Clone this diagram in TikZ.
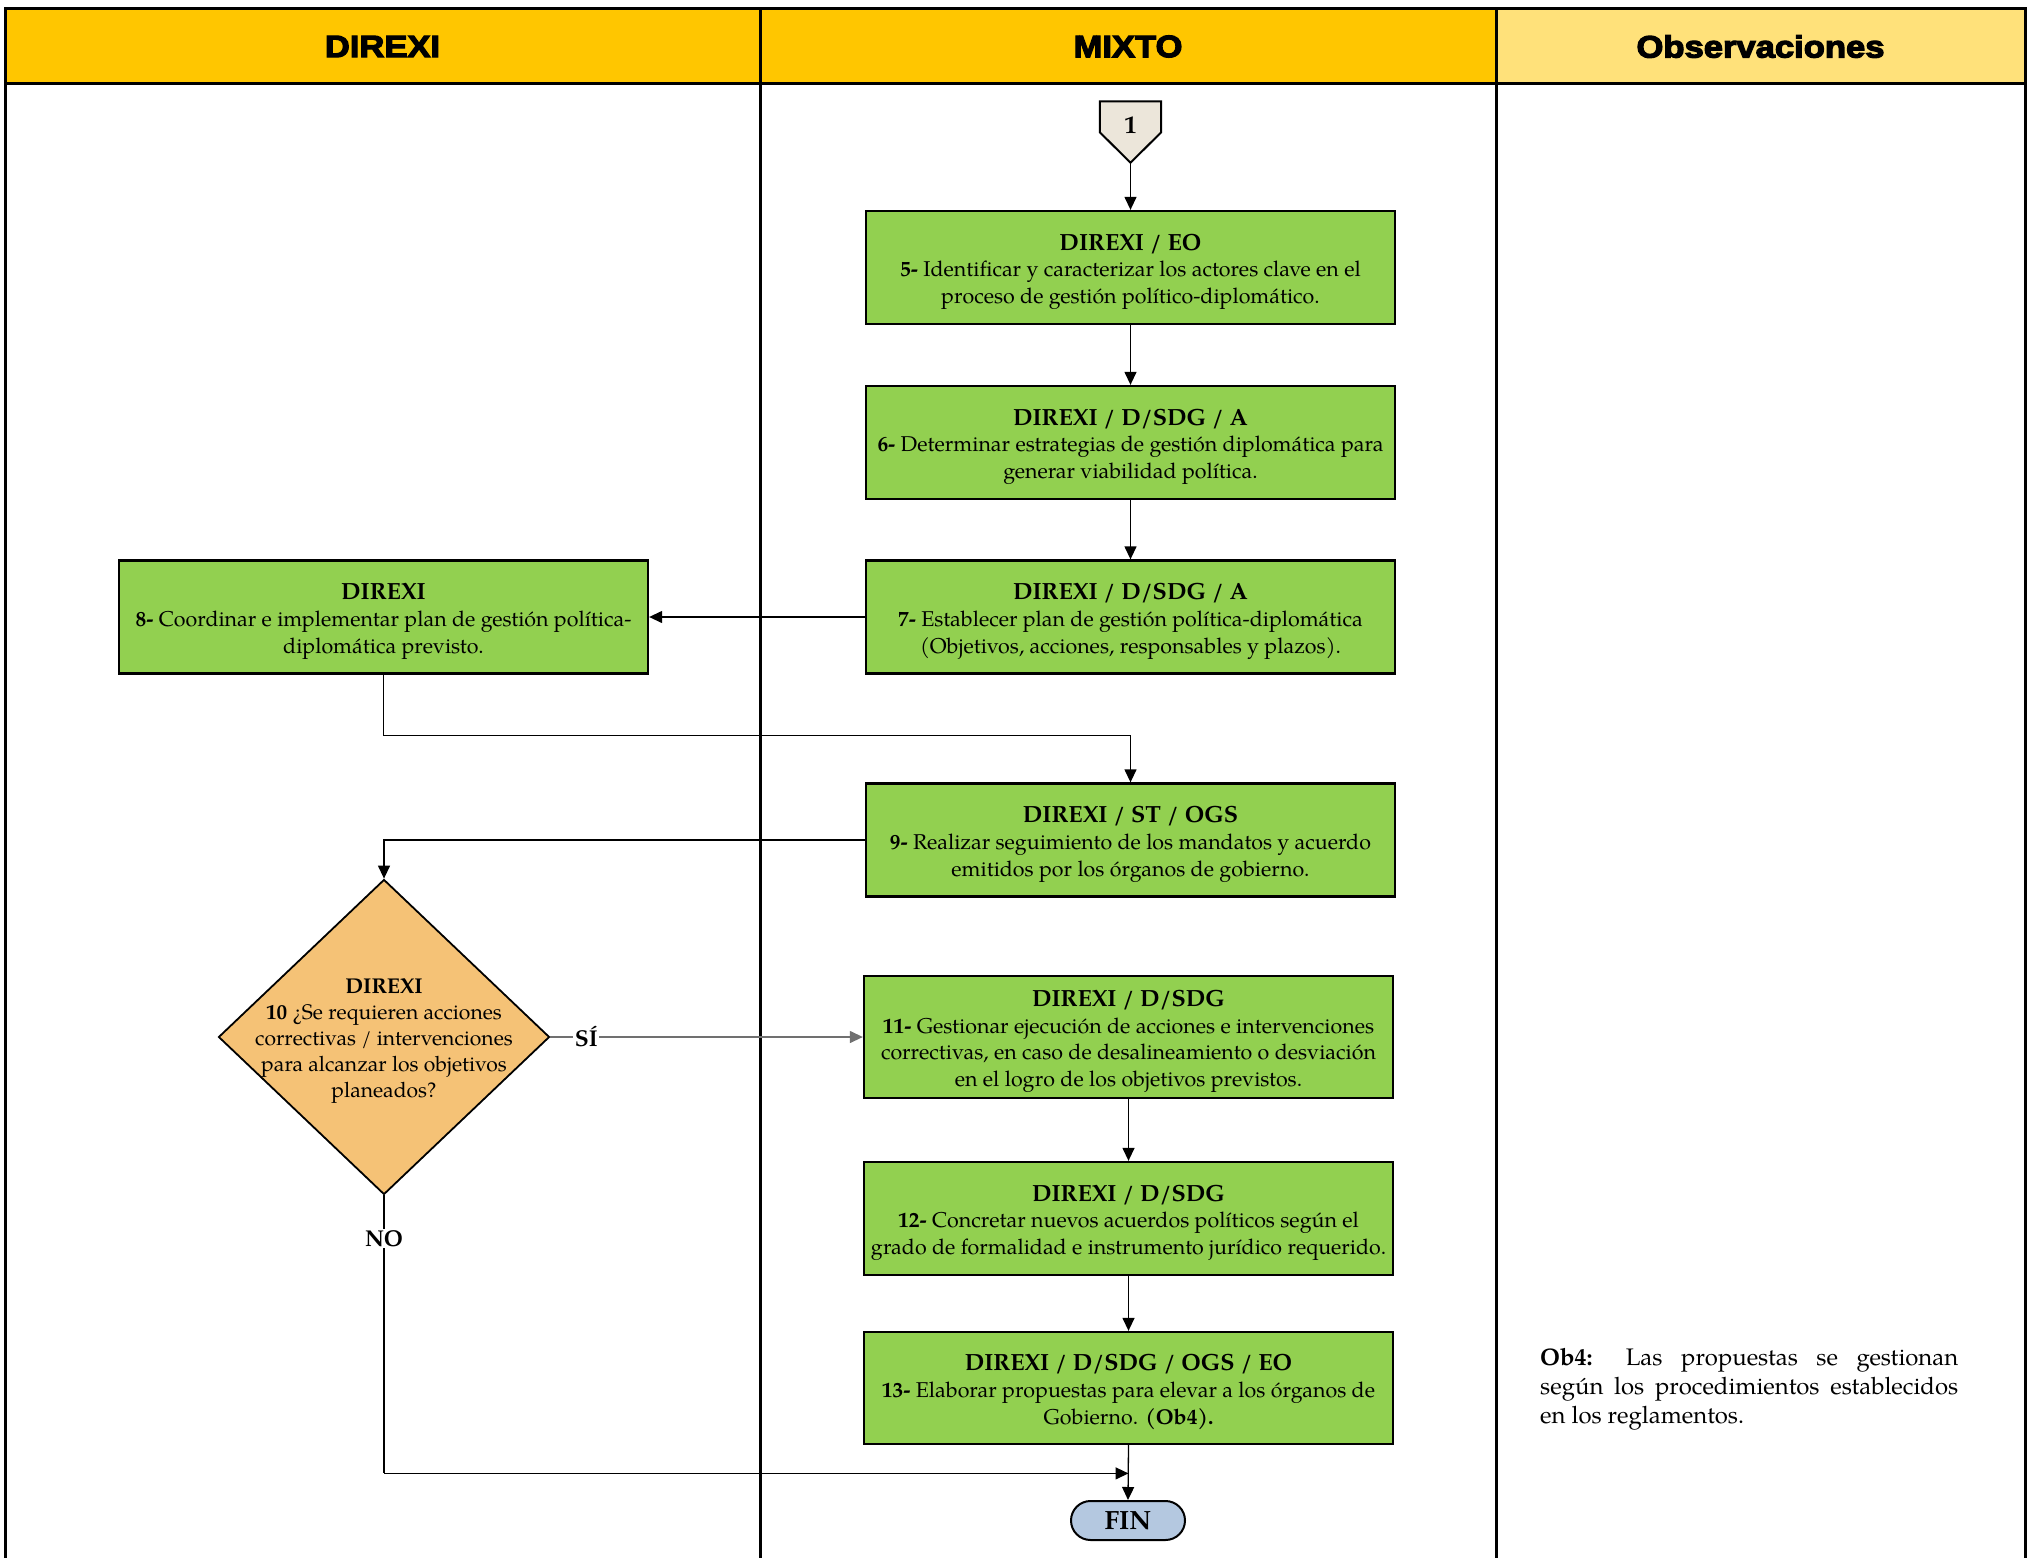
\documentclass[tikz,border=0pt]{standalone}
\usepackage{fontspec}
\setmainfont{TeX Gyre Pagella}
\newfontfamily\hdrfont{Liberation Sans}[BoldFeatures={FakeBold=4,FakeStretch=1.12}]
\usetikzlibrary{arrows.meta,shapes.geometric,shapes.misc}
\definecolor{hdrgold}{HTML}{FFC600}
\definecolor{hdrlight}{HTML}{FFE17A}
\definecolor{boxgreen}{HTML}{92D050}
\definecolor{decorange}{HTML}{F5C276}
\definecolor{conbeige}{HTML}{ECE6DA}
\definecolor{finblue}{HTML}{B4C8E0}
\definecolor{siline}{HTML}{707070}
\newcommand{\ttl}[1]{{\fontsize{23.5}{28.5}\selectfont\bfseries\rule{0pt}{25bp}#1}}
\begin{document}
\begin{tikzpicture}[x=1bp,y=-1bp,
  stepbox/.style={draw=black, line width=2.3bp, fill=boxgreen, minimum width=529bp,
     minimum height=113bp, align=center, inner sep=0pt,
     font=\fontsize{21.5}{27}\selectfont},
  decbox/.style={diamond, draw=black, line width=1.8bp, fill=decorange, inner sep=0pt,
     minimum width=331bp, minimum height=315bp},
  conn/.style={draw=black, line width=1.3bp},
  arr/.style={conn, -{Triangle[length=13bp,width=12bp]}},
  lbl/.style={fill=white, inner sep=1.5bp, font=\fontsize{23}{26}\selectfont\bfseries},
  hdr/.style={font=\hdrfont\bfseries\fontsize{31}{36}\selectfont},
  tbl/.style={draw=black, line width=3bp}
]
\useasboundingbox (0,0) rectangle (2033,1558);
% header
\fill[hdrgold] (5,9) rectangle (1496,84);
\fill[hdrlight] (1496,9) rectangle (2025,84);
\node[hdr] (h1) at (382.5,46.5) {DIREXI};
\node[hdr] (h2) at (1128,46.5) {MIXTO};
\node[hdr] (h3) at (1760.5,46.5) {Observaciones};
\draw[tbl] (5,1560) -- (5,9) -- (2025,9) -- (2025,1560);
\draw[tbl] (5,84) -- (2025,84);
\draw[tbl] (760,9) -- (760,1560);
\draw[tbl] (1496,9) -- (1496,1560);

% off-page connector 1
\node[minimum width=61bp, minimum height=61bp, inner sep=0pt] (c1) at (1130.5,132) {};
\draw[draw=black, line width=2bp, fill=conbeige, line join=miter]
  (c1.north west) -- (c1.north east) -- ([yshift=-31bp]c1.north east) -- (c1.south)
  -- ([yshift=-31bp]c1.north west) -- cycle;
\node[font=\fontsize{25}{28}\selectfont\bfseries] (c1t) at (1130.5,125) {1};

% steps
\node[stepbox] (b5) at (1130.5,267.5) {\ttl{DIREXI / EO}\\
  \textbf{5-} Identificar y caracterizar los actores clave en el\\
  proceso de gestión político-diplomático.};
\node[stepbox] (b6) at (1130.5,442.5) {\ttl{DIREXI / D/SDG / A}\\
  \textbf{6-} Determinar estrategias de gestión diplomática para\\
  generar viabilidad política.};
\node[stepbox] (b7) at (1130.5,617) {\ttl{DIREXI / D/SDG / A}\\
  \textbf{7-} Establecer plan de gestión política-diplomática\\
  (Objetivos, acciones, responsables y plazos).};
\node[stepbox] (b8) at (383.5,617) {\ttl{DIREXI}\\
  \textbf{8-} Coordinar e implementar plan de gestión política-\\
  diplomática previsto.};
\node[stepbox] (b9) at (1130.5,840) {\ttl{DIREXI / ST / OGS}\\
  \textbf{9-} Realizar seguimiento de los mandatos y acuerdo\\
  emitidos por los órganos de gobierno.};
\node[decbox] (d10) at (384,1037) {};
\node[align=center, inner sep=0pt, font=\fontsize{21.2}{26.3}\selectfont] (d10t) at (384,1041)
  {{\fontsize{21.5}{26.3}\selectfont\bfseries DIREXI}\\
  \textbf{10} ¿Se requieren acciones\\
  correctivas / intervenciones\\
  para alcanzar los objetivos\\
  planeados?};
\node[stepbox, minimum height=122bp] (b11) at (1128.5,1037) {\ttl{DIREXI / D/SDG}\\
  \textbf{11-} Gestionar ejecución de acciones e intervenciones\\
  correctivas, en caso de desalineamiento o desviación\\
  en el logro de los objetivos previstos.};
\node[stepbox] (b12) at (1128.5,1218.5) {\ttl{DIREXI / D/SDG}\\
  \textbf{12-} Concretar nuevos acuerdos políticos según el\\
  grado de formalidad e instrumento jurídico requerido.};
\node[stepbox, minimum height=112bp] (b13) at (1128.5,1388) {\ttl{DIREXI / D/SDG / OGS / EO}\\
  \textbf{13-} Elaborar propuestas para elevar a los órganos de\\
  Gobierno. \textbf{(Ob4).}};
\node[rounded rectangle, draw=black, line width=2bp, fill=finblue, minimum width=114bp,
  minimum height=39bp, inner sep=0pt, font=\fontsize{26.5}{28}\selectfont\bfseries] (fin)
  at (1128,1520.5) {FIN};

% observation
\node[anchor=north west, text width=418bp, align=justify, inner sep=0pt,
  font=\fontsize{24}{29.2}\selectfont] (ob4) at (1540,1348)
  {\textbf{Ob4:} Las propuestas se gestionan\linebreak
   según los procedimientos establecidos\linebreak
   en los reglamentos.};

% connectors
\draw[arr] (c1.south) -- (b5.north);
\draw[arr] (b5.south) -- (b6.north);
\draw[arr] (b6.south) -- (b7.north);
\draw[arr] (b7.west) -- (b8.east);
\draw[arr] (b8.south) -- ++(0,61) -| (b9.north);
\draw[arr] (b9.west) -| (d10.north);
\draw[arr, draw=siline] (d10.east) -- node[lbl, pos=0.115] (si) {SÍ} (b11.west);
\draw[arr] (b11.south) -- (b12.north);
\draw[arr] (b12.south) -- (b13.north);
\draw[arr] (b13.south) -- (fin.north);
\draw[conn] (d10.south) -- node[lbl, pos=0.155] (no) {NO} ++(0,278) coordinate (nb);
\draw[arr] (nb) -- (nb -| b13.south);
\end{tikzpicture}
\end{document}
